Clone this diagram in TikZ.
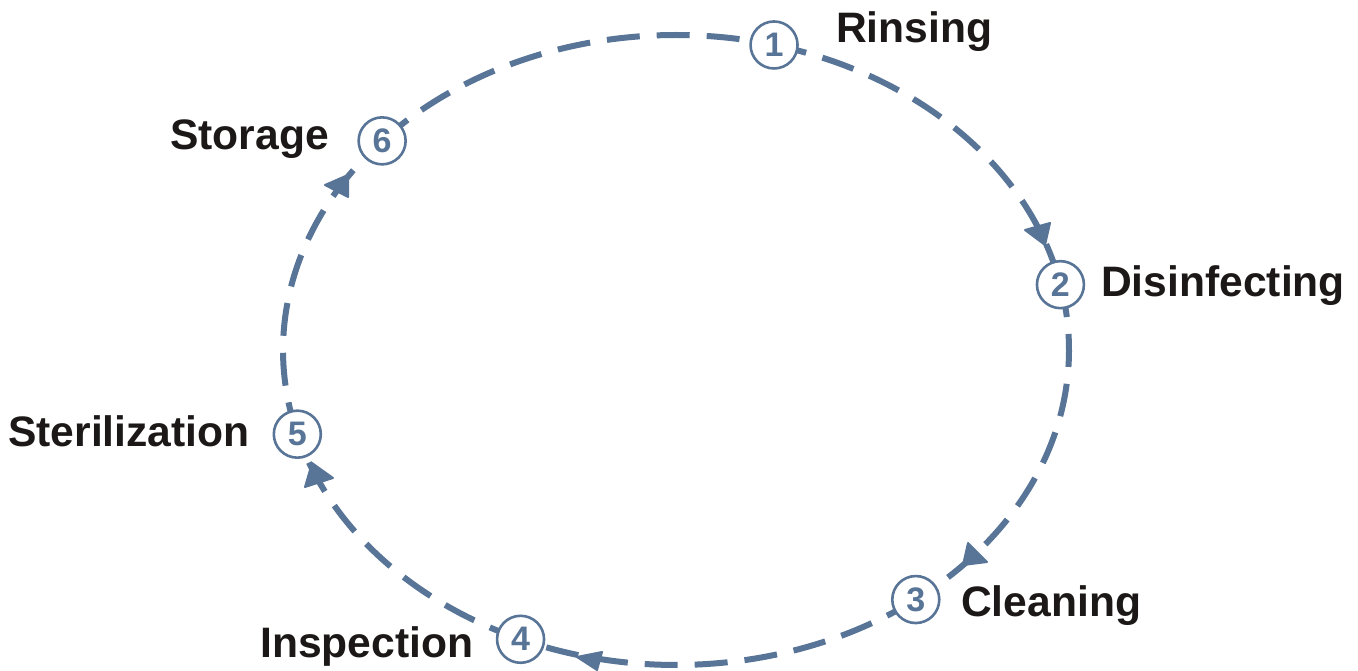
\documentclass[tikz,border=0pt]{standalone}
\usepackage{fontspec}
\setmainfont{Liberation Sans}
\definecolor{flowc}{RGB}{88,116,150}
\definecolor{labc}{RGB}{28,24,24}
\tikzset{
  flow/.style={draw=flowc, line width=6pt, dash pattern=on 33pt off 17pt},
  head/.style={fill=flowc, draw=flowc, line width=2pt, line join=round},
  stepnum/.style={circle, draw=flowc, fill=white, line width=2.6pt, minimum size=47pt, inner sep=0pt,
    text=flowc, font=\fontsize{34}{34}\selectfont\bfseries},
  lab/.style={anchor=base west, inner sep=0pt, text=labc, font=\fontsize{42.6}{43}\selectfont\bfseries}
}
\begin{document}
\begin{tikzpicture}[x=1pt,y=1pt]
\useasboundingbox (0,0) rectangle (1358,671);
\coordinate (ctr) at (676,321);
% step positions on the ellipse
\path (ctr) ++(75.55:393 and 315) coordinate (p1);
\path (ctr) ++(11.97:393 and 315) coordinate (p2);
\path (ctr) ++(-52.4:393 and 315) coordinate (p3);
\path (ctr) ++(-113.3:393 and 315) coordinate (p4);
\path (ctr) ++(195.5:393 and 315) coordinate (p5);
\path (ctr) ++(138.4:393 and 315) coordinate (p6);
% connectors
\draw[flow] (p1) arc[start angle=75.55, end angle=11.97, x radius=393pt, y radius=315pt];
\draw[flow] (p2) arc[start angle=11.97, end angle=-52.4, x radius=393pt, y radius=315pt];
\draw[flow] (p3) arc[start angle=-52.4, end angle=-113.3, x radius=393pt, y radius=315pt];
\draw[flow] (p4) arc[start angle=-113.3, end angle=-164.5, x radius=393pt, y radius=315pt];
\draw[flow] (p5) arc[start angle=-164.5, end angle=-221.6, x radius=393pt, y radius=315pt];
\draw[flow] (p6) arc[start angle=138.4, end angle=75.55, x radius=393pt, y radius=315pt];
% arrowheads
\path[head] (1045,426) -- (1025,441) -- (1050,448) -- cycle;
\path[head] (963,106) -- (968,128) -- (987,109) -- cycle;
\path[head] (577,14) -- (602,19) -- (597,1) -- cycle;
\path[head] (312,208) -- (305,184) -- (333,193) -- cycle;
\path[head] (325,486) -- (348,496) -- (348,474) -- cycle;
% step circles
\node[stepnum] (n1) at (p1) {1};
\node[stepnum] (n2) at (p2) {2};
\node[stepnum] (n3) at (p3) {3};
\node[stepnum] (n4) at (p4) {4};
\node[stepnum] (n5) at (p5) {5};
\node[stepnum] (n6) at (p6) {6};
% labels
\node[lab] (l1) at (836,628) {Rinsing};
\node[lab] (l2) at (1101,374) {Disinfecting};
\node[lab] (l3) at (961,54) {Cleaning};
\node[lab] (l4) at (260,13) {Inspection};
\node[lab] (l5) at (8,224) {Sterilization};
\node[lab] (l6) at (170,521) {Storage};
\end{tikzpicture}
\end{document}
